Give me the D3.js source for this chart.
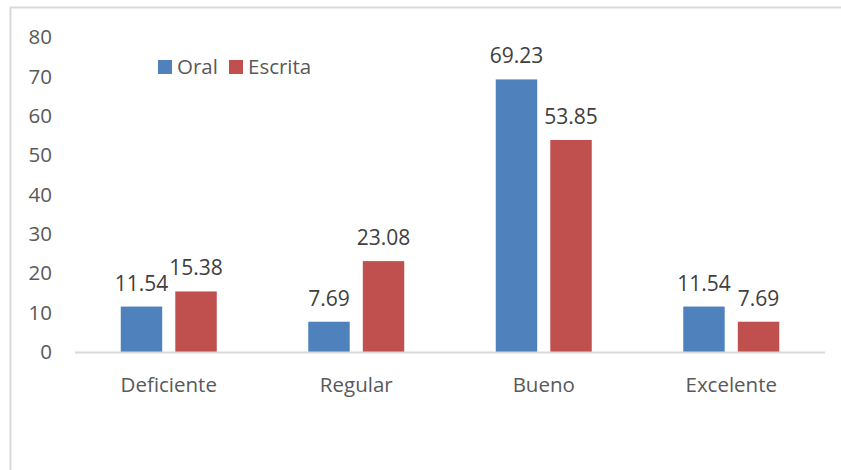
<!DOCTYPE html>
<html>
<head>
<meta charset="utf-8">
<script src="https://cdn.jsdelivr.net/npm/d3@7"></script>
<style>
  body { margin: 0; background: #fff; }
  text { font-family: "Open Sans", "Noto Sans", sans-serif; }
</style>
</head>
<body>
<svg id="chart" width="841" height="470"></svg>
<script>
var categories = ["Deficiente", "Regular", "Bueno", "Excelente"]
var seriesNames = ["Oral", "Escrita"]
var oral = [11.54, 7.69, 69.23, 11.54]
var escrita = [15.38, 23.08, 53.85, 7.69]
var yTicks = [0, 10, 20, 30, 40, 50, 60, 70, 80]
var colors = ["#4F81BD", "#C0504D"]

var svg = d3.select("#chart")

// outer chart border (right & bottom edges are off the picture)
svg.append("rect")
    .attr("x", 10.5)
    .attr("y", 7.5)
    .attr("width", 900)
    .attr("height", 600)
    .attr("fill", "none")
    .attr("stroke", "#D9D9D9")
    .attr("stroke-width", 2)

var x0 = d3.scaleBand().domain(categories).range([75, 825])
var x1 = d3.scaleBand().domain(seriesNames).range([0, 96]).paddingInner(0.24)
var y = d3.scaleLinear().domain([0, 80]).range([352, 37])

// y tick labels
svg.append("g").selectAll("text")
    .data(yTicks)
    .enter().append("text")
    .attr("x", 52)
    .attr("y", d => y(d))
    .attr("dy", "0.35em")
    .attr("text-anchor", "end")
    .attr("font-size", "20.5px")
    .attr("fill", "#595959")
    .text(d => d)

var rows = categories.map((c, i) => ({ cat: c, vals: [oral[i], escrita[i]] }))

var groups = svg.append("g").selectAll("g")
    .data(rows)
    .enter().append("g")
    .attr("transform", d => "translate(" + (x0(d.cat) + x0.bandwidth() / 2 - 48) + ",0)")

groups.selectAll("rect")
    .data(d => d.vals.map((v, j) => ({ name: seriesNames[j], v: v, j: j })))
    .enter().append("rect")
    .attr("x", d => x1(d.name))
    .attr("y", d => y(d.v))
    .attr("width", x1.bandwidth())
    .attr("height", d => y(0) - y(d.v))
    .attr("fill", d => colors[d.j])

groups.selectAll("text")
    .data(d => d.vals.map((v, j) => ({ name: seriesNames[j], v: v, j: j })))
    .enter().append("text")
    .attr("x", d => x1(d.name) + x1.bandwidth() / 2)
    .attr("y", d => y(d.v) - 16)
    .attr("text-anchor", "middle")
    .attr("font-size", "21px")
    .attr("fill", "#404040")
    .text(d => d.v.toFixed(2))

// x axis line
svg.append("line")
    .attr("x1", 75).attr("x2", 825)
    .attr("y1", 352.5).attr("y2", 352.5)
    .attr("stroke", "#D9D9D9")
    .attr("stroke-width", 2)

// category labels
svg.append("g").selectAll("text")
    .data(categories)
    .enter().append("text")
    .attr("x", d => x0(d) + x0.bandwidth() / 2)
    .attr("y", 385)
    .attr("dy", "0.35em")
    .attr("text-anchor", "middle")
    .attr("font-size", "20.5px")
    .attr("fill", "#595959")
    .text(d => d)

// legend
var legend = svg.append("g").attr("transform", "translate(158,60)")
var legendX = [0, 71]
seriesNames.forEach(function (name, i) {
    legend.append("rect")
        .attr("x", legendX[i]).attr("y", 0)
        .attr("width", 14).attr("height", 14)
        .attr("fill", colors[i])
    legend.append("text")
        .attr("x", legendX[i] + 19).attr("y", 7)
        .attr("dy", "0.35em")
        .attr("font-size", "20.5px")
        .attr("fill", "#595959")
        .text(name)
})
</script>
</body>
</html>
